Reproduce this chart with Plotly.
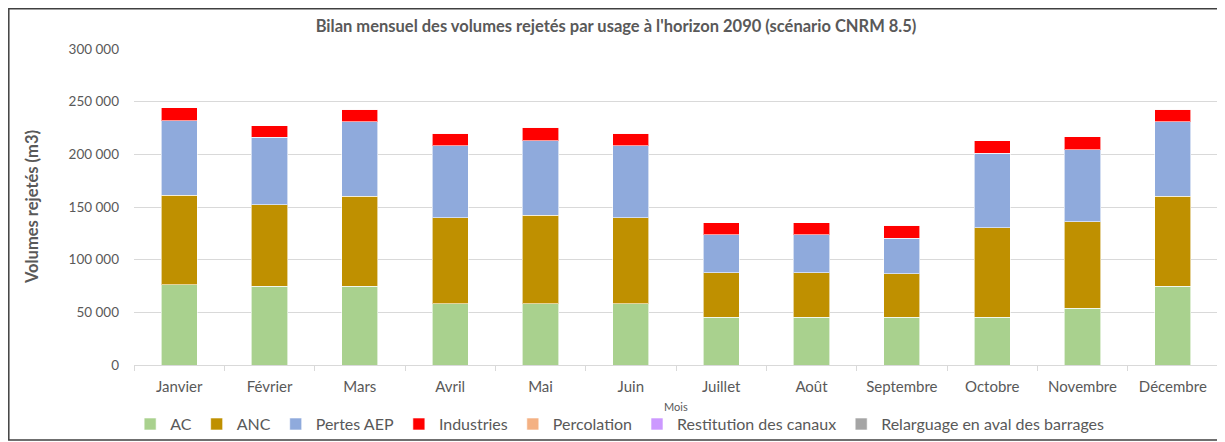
import plotly.graph_objects as go

mois = ["Janvier", "Février", "Mars", "Avril", "Mai", "Juin", "Juillet", "Août",
        "Septembre", "Octobre", "Novembre", "Décembre"]
ac = [76000, 75000, 75000, 58000, 58000, 58000, 45500, 45500, 45500, 45500, 54000, 75000]
anc = [85000, 77000, 85000, 82000, 84000, 82000, 42000, 42000, 41000, 85000, 82000, 85000]
pertes_aep = [71000, 64000, 71000, 68000, 71000, 68000, 36000, 36000, 34000, 70500, 68500, 71000]
industries = [12000, 11000, 12000, 12000, 12500, 12000, 11500, 11500, 12000, 12000, 12000, 12000]
percolation = [0] * 12
restitution = [0] * 12
relarguage = [0] * 12

series = [
    ("AC", ac, "#A9D18E"),
    ("ANC", anc, "#BF9000"),
    ("Pertes AEP", pertes_aep, "#8FAADC"),
    ("Industries", industries, "#FF0000"),
    ("Percolation", percolation, "#F4B183"),
    ("Restitution des canaux", restitution, "#CC99FF"),
    ("Relarguage en aval des barrages", relarguage, "#A5A5A5"),
]

FONT = "Lato, Open Sans, sans-serif"
GREY = "#595959"

fig = go.Figure()
for name, vals, col in series:
    fig.add_trace(go.Bar(x=mois, y=vals, name=name,
                         marker=dict(color=col, line=dict(color="rgba(255,255,255,0.6)", width=1))))

fig.update_layout(
    barmode="stack",
    bargap=0.6,
    width=1217, height=434,
    margin=dict(l=126, r=7, t=41, b=77, autoexpand=False),
    paper_bgcolor="white", plot_bgcolor="white",
    separators=", ",
    font=dict(family=FONT, color=GREY, size=13),
    title=dict(text="<b>Bilan mensuel des volumes rejetés par usage à l'horizon 2090 (scénario CNRM 8.5)</b>",
               x=0.4996, xanchor="center", y=0.9585, yanchor="middle",
               font=dict(size=16.5, color=GREY, family=FONT)),
    showlegend=True,
    legend=dict(orientation="h", x=0.448, xanchor="center", y=-0.187, yanchor="middle",
                font=dict(size=16, color=GREY, family=FONT), traceorder="normal",
                itemwidth=30, bgcolor="rgba(0,0,0,0)"),
    xaxis=dict(showgrid=False, showline=True, linecolor="#D9D9D9", linewidth=1,
               ticks="outside", tickson="boundaries", ticklen=5, tickcolor="#D9D9D9",
               tickfont=dict(size=15, color=GREY), ticklabelstandoff=8, fixedrange=True),
    yaxis=dict(range=[0, 300000], tickvals=[0, 50000, 100000, 150000, 200000, 250000, 300000],
               tickformat=",d", showgrid=True, gridcolor="#D9D9D9", gridwidth=1,
               zeroline=False, showline=False, tickfont=dict(size=13.5, color=GREY),
               ticks="", ticklabelstandoff=14),
    annotations=[
        dict(text="<b>Volumes rejetés (m3)</b>", xref="paper", yref="paper",
             x=-0.094, y=0.5, textangle=-90, showarrow=False,
             font=dict(size=16.5, color=GREY, family=FONT), xanchor="center", yanchor="middle"),
        dict(text="Mois", xref="paper", yref="paper", x=0.5, y=-0.13, showarrow=False,
             font=dict(size=11, color=GREY, family=FONT), xanchor="center", yanchor="middle"),
    ],
    shapes=[
        dict(type="rect", xref="paper", yref="paper", x0=-0.1155, x1=1.0055, y0=-0.237, y1=1.127,
             line=dict(color="#404040", width=1.5), fillcolor="rgba(0,0,0,0)", layer="below"),
    ],
)

fig.write_html("out.html")
